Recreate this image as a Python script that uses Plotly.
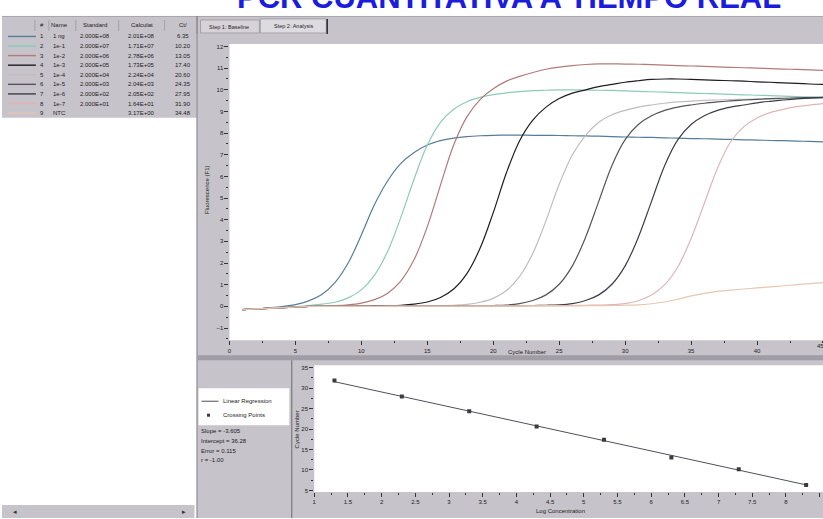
import plotly.graph_objects as go

W, H = 823, 519

# ---------------- data ----------------
cycles = list(range(1, 46))

fl_1ng = [-0.15, -0.12, -0.07, -0.01, 0.08, 0.25, 0.55, 1.10, 2.00, 3.30,
          4.70, 5.80, 6.60, 7.10, 7.45, 7.65, 7.77, 7.84, 7.88, 7.90,
          7.91, 7.91, 7.90, 7.90, 7.89, 7.88, 7.87, 7.86, 7.84, 7.82,
          7.81, 7.80, 7.78, 7.77, 7.75, 7.74, 7.72, 7.71, 7.69, 7.68,
          7.66, 7.65, 7.63, 7.62, 7.60]
fl_1e1 = [-0.15, -0.12, -0.09, -0.06, -0.02, 0.03, 0.10, 0.19, 0.39, 0.76,
          1.44, 2.55, 4.12, 5.88, 7.45, 8.50, 9.10, 9.45, 9.65, 9.78,
          9.86, 9.92, 9.96, 9.98, 10.00, 10.00, 9.99, 9.98, 9.97, 9.95,
          9.93, 9.91, 9.89, 9.87, 9.85, 9.83, 9.81, 9.79, 9.77, 9.75,
          9.73, 9.71, 9.69, 9.67, 9.65]
fl_1e2 = [-0.15, -0.12, -0.09, -0.06, -0.03, 0.00, 0.01, 0.03, 0.07, 0.15,
          0.31, 0.61, 1.18, 2.16, 3.68, 5.60, 7.45, 8.75, 9.55, 10.05,
          10.40, 10.62, 10.80, 10.95, 11.05, 11.12, 11.17, 11.20, 11.20, 11.19,
          11.18, 11.16, 11.14, 11.12, 11.10, 11.08, 11.06, 11.04, 11.02, 11.00,
          10.98, 10.96, 10.94, 10.92, 10.90]
fl_1e3 = [-0.15, -0.12, -0.09, -0.06, -0.03, 0.00, 0.00, 0.00, 0.01, 0.01,
          0.02, 0.03, 0.05, 0.10, 0.20, 0.41, 0.80, 1.51, 2.68, 4.33,
          6.17, 7.65, 8.60, 9.20, 9.60, 9.85, 10.00, 10.15, 10.25, 10.35,
          10.42, 10.48, 10.50, 10.50, 10.48, 10.46, 10.44, 10.42, 10.40, 10.37,
          10.35, 10.32, 10.30, 10.27, 10.25]
fl_1e4 = [-0.15, -0.12, -0.09, -0.06, -0.03, 0.00, 0.00, 0.00, 0.00, 0.01,
          0.01, 0.01, 0.02, 0.02, 0.03, 0.03, 0.05, 0.09, 0.19, 0.37,
          0.73, 1.38, 2.45, 3.96, 5.64, 7.00, 7.90, 8.50, 8.85, 9.05,
          9.20, 9.30, 9.38, 9.44, 9.48, 9.51, 9.53, 9.55, 9.56, 9.57,
          9.58, 9.59, 9.60, 9.60, 9.60]
fl_1e5 = [-0.15, -0.12, -0.09, -0.06, -0.03, 0.00, 0.00, 0.00, 0.00, 0.01,
          0.01, 0.01, 0.01, 0.02, 0.02, 0.02, 0.02, 0.03, 0.03, 0.04,
          0.06, 0.13, 0.27, 0.53, 1.02, 1.87, 3.19, 4.85, 6.51, 7.70,
          8.40, 8.80, 9.05, 9.20, 9.30, 9.38, 9.44, 9.49, 9.53, 9.56,
          9.59, 9.61, 9.63, 9.64, 9.65]
fl_1e6 = [-0.15, -0.12, -0.09, -0.06, -0.03, 0.00, 0.00, 0.00, 0.00, 0.00,
          0.01, 0.01, 0.01, 0.01, 0.01, 0.02, 0.02, 0.02, 0.02, 0.02,
          0.03, 0.03, 0.04, 0.05, 0.07, 0.13, 0.27, 0.53, 1.02, 1.87,
          3.19, 4.85, 6.51, 7.70, 8.40, 8.80, 9.05, 9.20, 9.30, 9.40,
          9.47, 9.53, 9.58, 9.62, 9.65]
fl_1e7 = [-0.15, -0.12, -0.09, -0.06, -0.03, 0.00, 0.00, 0.00, 0.00, 0.00,
          0.00, 0.01, 0.01, 0.01, 0.01, 0.01, 0.01, 0.02, 0.02, 0.02,
          0.02, 0.02, 0.02, 0.03, 0.03, 0.04, 0.05, 0.06, 0.08, 0.13,
          0.26, 0.52, 1.00, 1.83, 3.13, 4.75, 6.38, 7.60, 8.30, 8.70,
          8.95, 9.10, 9.22, 9.30, 9.36]
fl_ntc = [-0.15, -0.12, -0.09, -0.06, -0.03, 0.00, 0.00, 0.00, 0.00, 0.00,
          0.00, 0.00, 0.00, 0.01, 0.01, 0.01, 0.01, 0.01, 0.01, 0.01,
          0.01, 0.02, 0.02, 0.02, 0.02, 0.02, 0.03, 0.03, 0.04, 0.05,
          0.07, 0.12, 0.20, 0.33, 0.48, 0.60, 0.69, 0.75, 0.80, 0.85,
          0.90, 0.95, 1.00, 1.05, 1.10]

sample_names = ["1 ng", "1e-1", "1e-2", "1e-3", "1e-4", "1e-5", "1e-6", "1e-7", "NTC"]
sample_curves = [fl_1ng, fl_1e1, fl_1e2, fl_1e3, fl_1e4, fl_1e5, fl_1e6, fl_1e7, fl_ntc]
sample_colors = ["#557d99", "#8ccbb8", "#b47a78", "#1e1e22", "#c4bcbc",
                 "#55545a", "#3b3e4a", "#e2b4b4", "#e8c6b2"]

# standard curve (crossing points)
log_conc = [8.3, 7.3, 6.3, 5.3, 4.3, 3.3, 2.3, 1.3]
ct_values = [6.35, 10.20, 13.05, 17.40, 20.60, 24.35, 27.95, 31.90]
slope = -3.605
intercept = 36.28
fit_error = 0.115
corr_r = -1.00

# sample table text
standard_txt = ["2.000E+08", "2.000E+07", "2.000E+06", "2.000E+05", "2.000E+04",
                "2.000E+03", "2.000E+02", "2.000E+01", ""]
calc_txt = ["2.01E+08", "1.71E+07", "2.78E+06", "1.73E+05", "2.24E+04",
            "2.04E+03", "2.05E+02", "1.64E+01", "3.17E+00"]
ntc_ct = 34.48
table_header = ["#", "Name", "Standard", "Calculat", "Ct/"]

amp_xticks = [0, 5, 10, 15, 20, 25, 30, 35, 40, 45]
amp_yticks = [-1, 0, 1, 2, 3, 4, 5, 6, 7, 8, 9, 10, 11, 12]
std_xticks = [1, 1.5, 2, 2.5, 3, 3.5, 4, 4.5, 5, 5.5, 6, 6.5, 7, 7.5, 8, 8.5]
std_yticks = [5, 10, 15, 20, 25, 30, 35]

# ---------------- helpers (pixel -> paper) ----------------
GRAY = "#c7c3ca"
DARK = "#6d6972"
FONT = "Liberation Sans, Arial, sans-serif"


def px(x):
    return x / W


def py(y):
    return 1 - y / H


shapes = []
annotations = []


def box(x0, y0, x1, y1, fill, line=None, lw=0):
    shapes.append(dict(type="rect", xref="paper", yref="paper",
                       x0=px(x0), x1=px(x1), y0=py(y1), y1=py(y0),
                       fillcolor=fill, line=dict(width=lw, color=line or fill),
                       layer="below"))


def seg(x0, y0, x1, y1, color, lw=1, layer="below"):
    shapes.append(dict(type="line", xref="paper", yref="paper",
                       x0=px(x0), x1=px(x1), y0=py(y0), y1=py(y1),
                       line=dict(width=lw, color=color), layer=layer))


def text(x, y, s, size=6, anchor="left", color="#1c1c1c", angle=0):
    annotations.append(dict(xref="paper", yref="paper", x=px(x), y=py(y),
                            text=s, showarrow=False,
                            xanchor=anchor, yanchor="middle", textangle=angle,
                            font=dict(family=FONT, size=size, color=color),
                            borderpad=0))


# ---------------- window chrome ----------------
box(0, 16, 823, 34, GRAY)                     # header strip
seg(0, 16.5, 823, 16.5, "#a9a5ad", 1)
box(0, 34, 195, 118, GRAY)                    # table rows
box(196, 34, 823, 519, GRAY)                  # right panels
box(0, 506, 193, 519, GRAY)                   # scrollbar
seg(195.5, 16, 195.5, 519, DARK, 1)
box(228, 44, 823, 341, "white")               # amplification plot area
box(313, 366, 823, 493, "white")              # standard curve plot area
box(196, 356, 823, 361, "#a19da6")            # splitter
seg(290.5, 361, 290.5, 519, DARK, 1)
box(197, 389, 288, 426, "white")              # legend box

# tabs
box(199, 20, 258, 33, "#d6d2d8", "#8a8690", 0.6)
box(259, 19, 325, 33, "#dedbe0", "#8a8690", 0.6)
seg(326, 19, 326, 34, "#2a2a2a", 1.5)
text(228, 27, "Step 1: Baseline", 5.5, "center")
text(292, 26.5, "Step 2: Analysis", 5.5, "center")

# scrollbar arrows
text(13, 512, "◂", 7, "center", "#333")
text(182, 512, "▸", 7, "center", "#333")

# ---------------- table ----------------
col_x = [40, 58, 93, 140, 181]
col_sep = [33, 47, 74, 117, 163]
for cx, h in zip(col_x, table_header):
    text(cx, 25, h, 6, "center")
for sx in col_sep:
    seg(sx, 20, sx, 31, "#8e8a92", 0.6)

row_y0, row_dy = 36.5, 9.6
for i, name in enumerate(sample_names):
    yy = row_y0 + i * row_dy
    ct_txt = f"{ct_values[i]:.2f}" if i < len(ct_values) else f"{ntc_ct:.2f}"
    seg(6, yy, 34, yy, sample_colors[i], 1.4)
    text(col_x[0], yy, str(i + 1), 6, "center")
    text(50, yy, name, 6, "left")
    text(col_x[2], yy, standard_txt[i], 6, "center")
    text(col_x[3], yy, calc_txt[i], 6, "center")
    text(col_x[4], yy, ct_txt, 6, "center")

# ---------------- legend of the standard curve ----------------
seg(200, 402, 217, 402, "#50505c", 1)
text(221, 402, "Linear Regression", 6, "left")
box(205.5, 414.5, 208.5, 417.5, "#3a3a44")
text(221, 416, "Crossing Points", 6, "left")

# ---------------- axis titles, statistics ----------------
text(526, 353, "Cycle Number", 6, "center")
text(205, 190, "Fluorescence (F1)", 6, "center", angle=-90)
text(296, 430, "Cycle Number", 6, "center", angle=-90)
text(560, 512, "Log Concentration", 6, "center")
text(820, 347, "45", 6, "center", "#222")

stats = [f"Slope = {slope:.3f}", f"Intercept = {intercept:.2f}",
         f"Error = {fit_error:.3f}", f"r = {corr_r:.2f}"]
for k, s in enumerate(stats):
    text(198, 432 + k * 9.7, s, 6, "left")

# title (the top of the lettering runs off the page)
annotations.append(dict(xref="paper", yref="paper", x=px(508), y=1,
                        xanchor="center", yanchor="top", yshift=22,
                        text="<b>PCR CUANTITATIVA A TIEMPO REAL</b>",
                        showarrow=False,
                        font=dict(family=FONT, size=31, color="#1c1cdc")))

# ---------------- traces ----------------
fig = go.Figure()
for name, vals, col in zip(sample_names, sample_curves, sample_colors):
    fig.add_trace(go.Scatter(x=cycles, y=vals, mode="lines", name=name,
                             line=dict(color=col, width=1.2, shape="spline"),
                             xaxis="x", yaxis="y"))

fit_x = [min(log_conc), max(log_conc)]
fit_y = [slope * v + intercept for v in fit_x]
fig.add_trace(go.Scatter(x=fit_x, y=fit_y, mode="lines", name="Linear Regression",
                         line=dict(color="#50505c", width=1),
                         xaxis="x2", yaxis="y2"))
fig.add_trace(go.Scatter(x=log_conc, y=ct_values, mode="markers", name="Crossing Points",
                         marker=dict(symbol="square", size=4, color="#3a3a44"),
                         xaxis="x2", yaxis="y2"))

tick_font = dict(family=FONT, size=6, color="#222")
axis_common = dict(showgrid=False, zeroline=False, showline=False,
                   ticks="outside", ticklen=4, tickwidth=1, tickcolor="#333",
                   tickfont=tick_font)

fig.update_layout(
    width=W, height=H,
    margin=dict(l=0, r=0, t=0, b=0),
    paper_bgcolor="white", plot_bgcolor="rgba(0,0,0,0)",
    shapes=shapes, annotations=annotations,
    showlegend=False,
    xaxis=dict(domain=[px(228), 1], range=[0, 45], tickvals=amp_xticks[:-1],
               minor=dict(dtick=2.5, ticklen=2, tickcolor="#333", ticks="outside"),
               anchor="y", **axis_common),
    yaxis=dict(domain=[py(341), py(44)], range=[-1.57, 12.12], tickvals=amp_yticks,
               minor=dict(dtick=0.5, ticklen=2, tickcolor="#333", ticks="outside"),
               anchor="x", **axis_common),
    xaxis2=dict(domain=[px(313), 1], range=[1, 8.55], tickvals=std_xticks,
                ticktext=[f"{v:g}" for v in std_xticks],
                minor=dict(dtick=0.25, ticklen=2, tickcolor="#333", ticks="outside"),
                anchor="y2", **axis_common),
    yaxis2=dict(domain=[py(493), py(366)], range=[4.6, 35.6], tickvals=std_yticks,
                minor=dict(dtick=2.5, ticklen=2, tickcolor="#333", ticks="outside"),
                anchor="x2", **axis_common),
)

fig.write_html("out.html")
